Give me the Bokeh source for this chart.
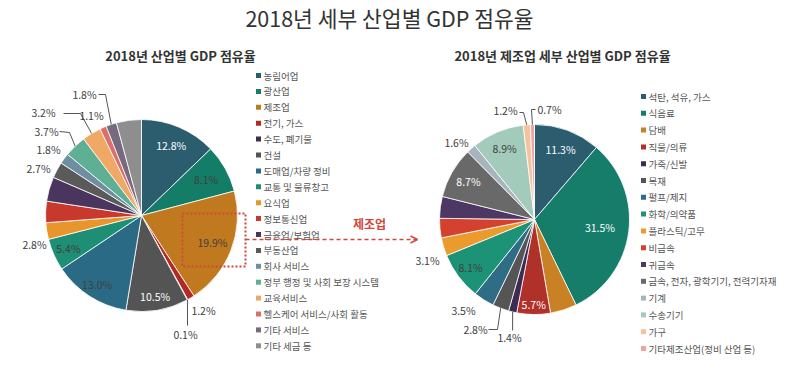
import math
from bokeh.plotting import figure
from bokeh.models import Range1d, ColumnDataSource, Arrow, OpenHead
from bokeh.core.properties import value
from bokeh.embed import file_html
from bokeh.resources import INLINE

# ---------------- data ----------------
title_text = "2018년 세부 산업별 GDP 점유율"
main_title = "2018년 산업별 GDP 점유율"
mfg_title = "2018년 제조업 세부 산업별 GDP 점유율"
callout_text = "제조업"

main_categories = ["농림어업", "광산업", "제조업", "전기, 가스", "수도, 폐기물", "건설",
                   "도매업/차량 정비", "교통 및 물류창고", "요식업", "정보통신업", "금융업/보험업",
                   "부동산업", "회사 서비스", "정부 행정 및 사회 보장 시스템", "교육서비스",
                   "헬스케어 서비스/사회 활동", "기타 서비스", "기타 세금 등"]
main_shares = [12.8, 8.1, 19.9, 1.2, 0.1, 10.5, 13.0, 5.4, 2.8, 3.6, 4.1,
               2.7, 1.8, 3.7, 3.2, 1.1, 1.8, 4.2]
main_colors = ["#2B5D6F", "#147D68", "#C0791F", "#B22A25", "#3B2C50", "#545454",
               "#2A6A85", "#1E8E75", "#E8962C", "#C8392D", "#4A355F", "#5A5A5A",
               "#6F8FA0", "#5FAF95", "#F0A866", "#D9706B", "#776A7F", "#8E8E8E"]

mfg_categories = ["석탄, 석유, 가스", "식음료", "담배", "직물/의류", "가죽/신발", "목재",
                  "펄프/제지", "화학/의약품", "플라스틱/고무", "비금속", "귀금속",
                  "금속, 전자, 광학기기, 전력기자재", "기계", "수송기기", "가구",
                  "기타제조산업(정비 산업 등)"]
mfg_shares = [11.3, 31.5, 4.5, 5.7, 1.4, 2.8, 3.5, 8.1, 3.1, 3.3, 3.7,
              8.7, 1.6, 8.9, 1.2, 0.7]
mfg_colors = ["#2B5D6F", "#157D69", "#C98125", "#B0302A", "#3C2C52", "#555555",
              "#2F6D87", "#1C9277", "#EB9A2E", "#D4412F", "#4C3862", "#696969",
              "#A6B4BE", "#A3CBBC", "#F4C29E", "#E8A6A6"]

# ---------------- layout / style ----------------
FONT = "Noto Sans CJK KR"
DARK = "#404040"
RED = "#D2473C"
W, H = 781, 372

# label placement: ("in", radius_px, color) or ("at", (x, y), leader_points)
main_label_layout = {
    0: ("in", 76, "white"), 1: ("in", 74, DARK), 2: ("in", 76, DARK),
    5: ("in", 82, "white"), 6: ("in", 82, DARK), 7: ("in", 80, DARK),
    3: ("at", (211, 318), None),
    4: ("at", (193, 342), [(195, 333)]),
    8: ("at", (42, 252), None),
    11: ("at", (46, 176), None),
    12: ("at", (56, 157), None),
    13: ("at", (54, 139), [(77, 140), (67, 139)]),
    14: ("at", (51, 120), [(88, 121), (71, 121)]),
    15: ("at", (99, 123), None),
    16: ("at", (92, 102), [(113, 102), (106, 102)]),
}
mfg_label_layout = {
    0: ("in", 75, "white"), 1: ("in", 66, "white"), 3: ("in", 85, "white"),
    7: ("in", 80, DARK), 11: ("in", 76, "white"), 13: ("in", 77, DARK),
    4: ("at", (517, 345), [(None, 338)]),
    5: ("at", (483, 337), [(505, 337), (496, 337)]),
    6: ("at", (471, 318), None),
    8: ("at", (435, 268), None),
    12: ("at", (464, 150), None),
    14: ("at", (513, 118), [(531, 120), (527, 120)]),
    15: ("at", (557, 117), [(539, 117), (543, 117)]),
}

p = figure(width=W, height=H, output_backend="svg", toolbar_location=None,
           x_range=Range1d(8, 8 + W), y_range=Range1d(-(8 + H), -8),
           x_axis_location=None, y_axis_location=None, min_border=0,
           outline_line_color=None, tools="")
p.grid.visible = False
p.background_fill_color = "white"


def Y(py):
    return -py


def draw_pie(cx, cy, R, shares, colors, layout):
    total = float(sum(shares))
    cum = [0.0]
    for s in shares:
        cum.append(cum[-1] + s / total)
    starts = [math.pi / 2 - 2 * math.pi * c for c in cum[:-1]]
    ends = [math.pi / 2 - 2 * math.pi * c for c in cum[1:]]
    src = ColumnDataSource(dict(start=starts, end=ends, color=colors))
    p.wedge(x=cx, y=Y(cy), radius=R, start_angle="start", end_angle="end",
            direction="clock", fill_color="color", line_color="white",
            line_width=0.8, source=src)
    tx, ty, tt, tc = [], [], [], []
    for i, spec in layout.items():
        mid = 2 * math.pi * (cum[i] + cum[i + 1]) / 2  # clockwise from top
        label = f"{shares[i]:.1f}%"
        if spec[0] == "in":
            r = spec[1]
            tx.append(cx + r * math.sin(mid))
            ty.append(Y(cy - r * math.cos(mid)))
            tt.append(label)
            tc.append(spec[2])
        else:
            (lx, ly), pts = spec[1], spec[2]
            tx.append(lx)
            ty.append(Y(ly))
            tt.append(label)
            tc.append(DARK)
            if pts:
                ex = cx + R * math.sin(mid)
                ey = cy - R * math.cos(mid)
                xs, ys = [ex], [Y(ey)]
                for (px, py) in pts:
                    xs.append(ex if px is None else px)
                    ys.append(Y(py))
                p.line(xs, ys, line_color="#555555", line_width=1)
    p.text(x=tx, y=ty, text=tt, text_color=tc, text_font=value(FONT),
           text_font_size=value("10.5px"), text_align="center",
           text_baseline="middle")


def draw_legend(x0, y0, step, cats, colors):
    ys = [Y(y0 + i * step) for i in range(len(cats))]
    p.scatter(x=[x0] * len(cats), y=ys, marker="square", size=5,
              fill_color=colors, line_color=None)
    p.text(x=[x0 + 5] * len(cats), y=ys, text=cats, text_color="#555555",
           text_font=value(FONT), text_font_size=value("9.5px"),
           text_align="left", text_baseline="middle")


draw_pie(149, 223, 96, main_shares, main_colors, main_label_layout)
draw_pie(542, 227, 95, mfg_shares, mfg_colors, mfg_label_layout)
draw_legend(266, 83, 15.9, main_categories, main_colors)
draw_legend(651, 104, 16.8, mfg_categories, mfg_colors)

# callout box and arrow
p.quad(left=190, right=253, top=Y(221), bottom=Y(274), fill_color=None,
       line_color=RED, line_dash="2 2", line_width=2)
p.add_layout(Arrow(end=OpenHead(size=7, line_color=RED, line_width=1.5),
                   x_start=253, y_start=Y(247), x_end=425, y_end=Y(247),
                   line_color=RED, line_dash="4 3", line_width=1.5))
p.text(x=[377], y=[Y(231)], text=[callout_text], text_color=RED,
       text_font=value(FONT), text_font_size=value("12px"),
       text_font_style="bold", text_align="center", text_baseline="middle")

# titles
p.text(x=[397], y=[Y(25)], text=[title_text], text_color="#333333",
       text_font=value(FONT), text_font_size=value("21.5px"),
       text_align="center", text_baseline="middle")
p.text(x=[188, 570], y=[Y(63), Y(63)], text=[main_title, mfg_title],
       text_color="#333333", text_font=value(FONT),
       text_font_size=value("13px"), text_font_style="bold",
       text_align="center", text_baseline="middle")

open("out.html", "w").write(file_html(p, INLINE))
